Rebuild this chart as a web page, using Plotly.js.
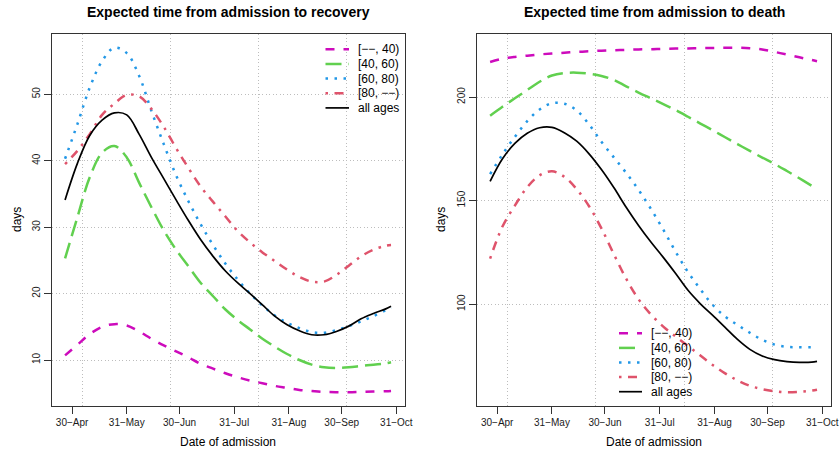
<!DOCTYPE html>
<html>
<head>
<meta charset="utf-8">
<script src="https://cdn.plot.ly/plotly-3.0.1.min.js"></script>
<style>
  html, body { margin: 0; padding: 0; background: #fff; }
  #chart { width: 840px; height: 453px; }
</style>
</head>
<body>
<div id="chart"></div>
<script>
// Weekly dates of admission
const dates = ['2020-04-26','2020-05-03','2020-05-10','2020-05-17','2020-05-24','2020-05-31',
  '2020-06-07','2020-06-14','2020-06-21','2020-06-28','2020-07-05','2020-07-12','2020-07-19',
  '2020-07-26','2020-08-02','2020-08-09','2020-08-16','2020-08-23','2020-08-30','2020-09-06',
  '2020-09-13','2020-09-20','2020-09-27','2020-10-04','2020-10-11','2020-10-18','2020-10-25',
  '2020-10-28'];

// Age groups
const groupNames = ['[\u2212\u2212, 40)', '[40, 60)', '[60, 80)', '[80, \u2212\u2212)', 'all ages'];

// Expected days from admission to recovery
const recUnder40 = [10.7,12.3,13.9,15.0,15.4,15.2,14.3,13.2,12.2,11.3,10.4,9.4,8.7,8.0,7.4,6.9,6.5,6.1,5.8,5.5,5.35,5.2,5.15,5.15,5.2,5.25,5.3,5.35];
const rec40to60  = [25.3,31.5,37.5,41.2,42.2,40.5,36.7,33.0,29.5,26.6,24.1,21.6,19.6,17.6,16.0,14.6,13.2,12.0,10.9,10.0,9.3,8.9,8.8,8.9,9.1,9.3,9.5,9.65];
const rec60to80  = [40.3,45.5,51.0,55.0,57.0,56.2,52.8,47.5,42.5,37.8,33.9,30.4,27.3,24.5,22.1,20.0,18.2,16.7,15.6,14.8,14.2,14.1,14.5,15.1,15.8,16.6,17.5,17.9];
const rec80plus  = [39.5,41.5,44.0,46.9,48.6,49.9,49.7,47.8,45.1,41.9,38.9,36.1,33.8,31.6,29.4,27.7,26.2,24.9,23.6,22.5,21.8,21.8,22.8,24.2,25.6,26.6,27.2,27.3];
const recAll     = [34.1,39.6,43.8,46.1,47.2,46.9,44.0,40.5,37.3,34.1,31.0,28.1,25.6,23.4,21.6,20.0,18.3,16.6,15.3,14.4,13.8,13.8,14.3,15.1,16.2,17.0,17.7,18.1];

// Expected days from admission to death
const deathUnder40 = [216.9,218.5,219.4,220.0,220.6,221.0,221.4,221.8,222.1,222.4,222.6,222.8,223.0,223.1,223.3,223.4,223.5,223.6,223.7,223.8,223.8,223.6,223.0,221.8,220.5,219.2,217.9,217.3];
const death40to60  = [191.0,195.3,199.4,203.4,207.4,210.4,211.6,211.8,211.3,210.2,208.3,205.2,202.2,199.4,196.6,193.7,190.5,187.2,184.0,180.6,177.3,174.0,170.8,167.7,164.3,160.8,157.2,155.7];
const death60to80  = [162.8,172.3,180.8,188.4,194.0,197.0,196.8,193.6,186.8,178.4,170.9,163.4,155.2,146.0,136.0,125.3,115.5,107.2,99.6,94.0,90.0,86.2,82.8,80.5,79.4,79.2,79.2,79.3];
const death80plus  = [122.0,137.5,147.6,156.5,162.2,164.2,161.5,155.5,147.3,136.6,124.2,112.3,102.4,95.0,89.2,84.4,79.8,75.2,70.6,66.6,63.2,60.6,59.0,58.0,57.5,57.7,58.3,58.7];
const deathAll     = [159.3,170.2,177.6,182.5,185.2,185.4,182.8,178.7,172.6,165.0,156.3,146.8,138.0,130.0,122.6,114.8,106.7,100.2,94.6,88.8,83.0,78.2,75.0,73.2,72.3,71.9,72.0,72.4];

// Axis ticks
const xTickVals = ['2020-04-30','2020-05-31','2020-06-30','2020-07-31','2020-08-31','2020-09-30','2020-10-31'];
const xTickText = ['30\u2212Apr','31\u2212May','30\u2212Jun','31\u2212Jul','31\u2212Aug','30\u2212Sep','31\u2212Oct'];
const recTicks = [10, 20, 30, 40, 50];
const deathTicks = [100, 150, 200];

// Line styles per age group (R-like palette and line types)
const styles = [
  { color: '#CD0BBC', width: 2.5, dash: '9px,9px' },
  { color: '#61D04F', width: 2.5, dash: '16px,7px' },
  { color: '#2297E6', width: 2.5, dash: '2.5px,6.5px' },
  { color: '#DF536B', width: 2.5, dash: '2.5px,6.5px,9px,6.5px' },
  { color: '#000000', width: 1.7, dash: 'solid' }
];

const recSeries = [recUnder40, rec40to60, rec60to80, rec80plus, recAll];
const deathSeries = [deathUnder40, death40to60, death60to80, death80plus, deathAll];

const W = 840, H = 453;
const FONT = 'Liberation Sans, Arial, Helvetica, sans-serif';
const px = v => v / W;
const py = v => 1 - v / H;

const traces = [];
function addPanel(series, xa, ya) {
  series.forEach((vals, i) => {
    traces.push({
      type: 'scatter', mode: 'lines', x: dates, y: vals,
      xaxis: xa, yaxis: ya, name: groupNames[i], showlegend: false,
      hoverinfo: 'skip',
      line: { color: styles[i].color, width: styles[i].width, dash: styles[i].dash, shape: 'spline', smoothing: 1 }
    });
  });
}
addPanel(recSeries, 'x', 'y');
addPanel(deathSeries, 'x2', 'y2');

// R-style 4% padding around the data range
function padRange(lo, hi) { const e = (hi - lo) * 0.04; return [lo - e, hi + e]; }
const t0 = Date.parse(dates[0] + 'T00:00:00Z');
const t1 = Date.parse(dates[dates.length - 1] + 'T12:00:00Z');
const toStr = ms => new Date(ms).toISOString().slice(0, 19).replace('T', ' ');
const xr = padRange(t0, t1).map(toStr);
const flat = arr => arr.reduce((a, b) => a.concat(b), []);
const recAllVals = flat(recSeries), deathAllVals = flat(deathSeries);
const yrRec = padRange(Math.min(...recAllVals), Math.max(...recAllVals));
const yrDeath = padRange(Math.min(...deathAllVals), Math.max(...deathAllVals));

const DAY = 86400000;
const GRID = { dash: '1px,2.5px', color: '#bdbdbd' };
function xAxis(domain, anchor) {
  return {
    domain: domain, anchor: anchor, type: 'date', range: xr,
    tickmode: 'array', tickvals: xTickVals, ticktext: xTickText,
    ticks: 'outside', ticklen: 7, tickwidth: 1, tickcolor: '#333',
    tickfont: { family: FONT, size: 10, color: '#1a1a1a' },
    showline: true, mirror: true, linecolor: '#333', linewidth: 1.2,
    showgrid: false, zeroline: false, fixedrange: true,
    minor: { tickmode: 'linear', tick0: '2020-05-05 21:00', dtick: 50 * DAY,
             showgrid: true, griddash: GRID.dash, gridcolor: GRID.color, gridwidth: 1, ticks: '' }
  };
}
function yAxis(domain, anchor, range, ticks) {
  return {
    domain: domain, anchor: anchor, range: range,
    tickmode: 'array', tickvals: ticks, tickangle: -90,
    ticks: 'outside', ticklen: 7, tickwidth: 1, tickcolor: '#333',
    tickfont: { family: FONT, size: 10, color: '#1a1a1a' },
    showline: true, mirror: true, linecolor: '#333', linewidth: 1.2,
    showgrid: true, griddash: GRID.dash, gridcolor: GRID.color, gridwidth: 1,
    zeroline: false, fixedrange: true
  };
}

const yDom = [47 / H, 419 / H];
const leftDom = [52 / W, 405 / W];
const rightDom = [477 / W, 831 / W];

const annotations = [];
const shapes = [];
function text(x, y, s, opts) {
  annotations.push(Object.assign({
    xref: 'paper', yref: 'paper', x: x, y: y, text: s, showarrow: false,
    xanchor: 'center', yanchor: 'middle',
    font: { family: FONT, size: 12, color: '#000' }
  }, opts || {}));
}

// Panel titles
text(px(228.5), py(11.5), 'Expected time from admission to recovery', { font: { family: FONT, size: 14, color: '#000', weight: 'bold' } });
text(px(654), py(11.5), 'Expected time from admission to death', { font: { family: FONT, size: 14, color: '#000', weight: 'bold' } });
// Axis titles
text(px(228.5), py(441.5), 'Date of admission');
text(px(654), py(441.5), 'Date of admission');
text(px(17), py(220), 'days', { textangle: -90 });
text(px(441), py(220), 'days', { textangle: -90 });

// Legends
function legend(sx0, sx1, tx, y0, step) {
  groupNames.forEach((name, i) => {
    const y = py(y0 + i * step);
    shapes.push({ type: 'line', xref: 'paper', yref: 'paper', x0: px(sx0), x1: px(sx1), y0: y, y1: y,
      line: { color: styles[i].color, width: styles[i].width, dash: styles[i].dash } });
    text(px(tx), y, name, { xanchor: 'left' });
  });
}
legend(325.5, 349, 356, 49.3, 14.65);
legend(619, 642, 649, 333.3, 14.6);

const layout = {
  width: W, height: H,
  margin: { l: 0, r: 0, t: 0, b: 0 },
  paper_bgcolor: '#fff', plot_bgcolor: '#fff',
  showlegend: false,
  font: { family: FONT, color: '#000' },
  xaxis: xAxis(leftDom, 'y'),
  yaxis: yAxis(yDom, 'x', yrRec, recTicks),
  xaxis2: xAxis(rightDom, 'y2'),
  yaxis2: yAxis(yDom, 'x2', yrDeath, deathTicks),
  annotations: annotations,
  shapes: shapes
};

Plotly.newPlot('chart', traces, layout, { displayModeBar: false, staticPlot: true });
</script>
</body>
</html>
